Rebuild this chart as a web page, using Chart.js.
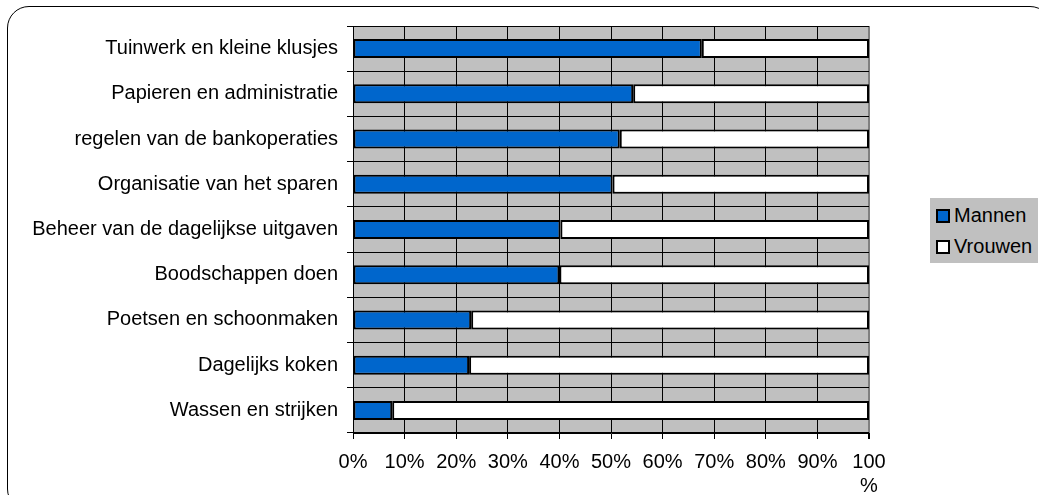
<!DOCTYPE html>
<html>
<head>
<meta charset="utf-8">
<script src="https://cdn.jsdelivr.net/npm/chart.js@4.4.1/dist/chart.umd.min.js"></script>
<style>
    html, body { margin: 0; padding: 0; background: #fff; overflow: hidden; }
    #wrap { position: relative; width: 1039px; height: 495px; }
    #frame {
        position: absolute; left: 7px; top: 6px; width: 1045px; height: 505px;
        border: 1.5px solid #000; border-radius: 22px; box-sizing: border-box;
    }
    #myChart { position: absolute; left: 0; top: 0; }
    #legend {
        position: absolute; left: 930px; top: 198px; width: 108px; height: 65px;
        background: #c0c0c0; font-family: Arial, "Liberation Sans", sans-serif; font-size: 20px;
    }
    .item { position: absolute; left: 6px; height: 24px; line-height: 24px; }
    .box { display: inline-block; width: 10px; height: 10px; border: 2px solid #000; vertical-align: -1px; margin-right: 4px; }
</style>
</head>
<body>
<div id="wrap">
    <div id="frame"></div>
    <canvas id="myChart" width="1039" height="495"></canvas>
    <div id="legend"></div>
</div>
<script>
    var categories = [
        "Tuinwerk en kleine klusjes",
        "Papieren en administratie",
        "regelen van de bankoperaties",
        "Organisatie van het sparen",
        "Beheer van de dagelijkse uitgaven",
        "Boodschappen doen",
        "Poetsen en schoonmaken",
        "Dagelijks koken",
        "Wassen en strijken"
    ];
    var mannen = [67.6, 54.3, 51.7, 50.3, 40.2, 40.0, 22.9, 22.5, 7.6];
    var vrouwen = [32.4, 45.7, 48.3, 49.7, 59.8, 60.0, 77.1, 77.5, 92.4];
    var seriesNames = ["Mannen", "Vrouwen"];
    var seriesColors = ["#0066cc", "#ffffff"];
    var xTicks = [0, 10, 20, 30, 40, 50, 60, 70, 80, 90, 100];

    var font = { family: "Arial, 'Liberation Sans', sans-serif", size: 20 };

    // gray plot background
    var plotBg = {
        id: 'plotBg',
        beforeDraw: function (chart) {
            var a = chart.chartArea;
            var ctx = chart.ctx;
            ctx.save();
            ctx.fillStyle = '#c0c0c0';
            ctx.fillRect(a.left, a.top, a.right - a.left, a.bottom - a.top);
            ctx.restore();
        }
    };

    const ctx = document.getElementById('myChart').getContext('2d');
    const myChart = new Chart(ctx, {
        type: 'bar',
        data: {
            labels: categories,
            datasets: [{
                label: seriesNames[0],
                data: mannen,
                backgroundColor: seriesColors[0],
                borderColor: '#000',
                borderWidth: 2,
                borderSkipped: false
            }, {
                label: seriesNames[1],
                data: vrouwen,
                backgroundColor: seriesColors[1],
                borderColor: '#000',
                borderWidth: 2,
                borderSkipped: false
            }]
        },
        options: {
            indexAxis: 'y',
            responsive: false,
            animation: false,
            barPercentage: 0.42,
            categoryPercentage: 1,
            layout: { padding: { top: 26, right: 170, left: 0, bottom: 0 } },
            plugins: {
                legend: { display: false },
                tooltip: { enabled: false }
            },
            scales: {
                x: {
                    stacked: true,
                    min: 0,
                    max: 100,
                    afterBuildTicks: function (scale) {
                        scale.ticks = xTicks.map(function (v) { return { value: v }; });
                    },
                    afterFit: function (scale) { scale.height = 62; },
                    grid: {
                        color: function (c) { return c.tick && c.tick.value === 100 ? '#808080' : '#000'; },
                        lineWidth: function (c) { return c.tick && c.tick.value === 100 ? 2 : 1; },
                        tickLength: 6,
                        tickColor: '#000'
                    },
                    border: { color: '#000', width: 1 },
                    ticks: {
                        color: '#000',
                        font: { family: font.family, size: 20, lineHeight: 1.2 },
                        padding: 11,
                        maxRotation: 0,
                        autoSkip: false,
                        callback: function (v) { return v === 100 ? ['100', '%'] : v + '%'; }
                    }
                },
                y: {
                    stacked: true,
                    afterFit: function (scale) { scale.width = 353; },
                    grid: {
                        color: '#000',
                        lineWidth: 1,
                        tickLength: 6,
                        offset: true
                    },
                    border: { color: '#000', width: 1 },
                    ticks: {
                        color: '#000',
                        font: font,
                        padding: 9
                    }
                }
            }
        },
        plugins: [plotBg]
    });

    // legend box on the right
    var legendHtml = '';
    for (var i = 0; i < seriesNames.length; i++) {
        legendHtml += "<div class='item' style='top:" + (5 + i * 31) + "px'><span class='box' style='background:" +
            seriesColors[i] + "'></span>" + seriesNames[i] + "</div>";
    }
    document.getElementById('legend').innerHTML = legendHtml;
</script>
</body>
</html>
